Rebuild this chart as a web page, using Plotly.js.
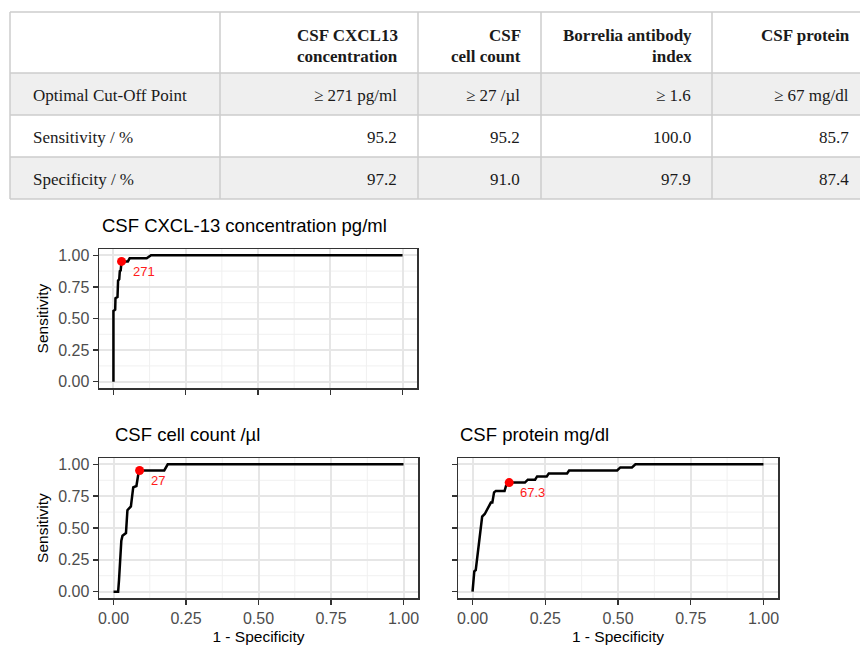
<!DOCTYPE html>
<html>
<head>
<meta charset="utf-8">
<script src="https://cdn.plot.ly/plotly-3.0.1.min.js"></script>
<style>html,body{margin:0;padding:0;background:#fff;}#chart{width:860px;height:646px;}</style>
</head>
<body>
<div id="chart"></div>
<script>
// ---------- table data ----------
const colHeaders = ['', 'CSF CXCL13<br>concentration', 'CSF<br>cell count', 'Borrelia antibody<br>index', 'CSF protein'];
const rowLabels = ['Optimal Cut-Off Point', 'Sensitivity / %', 'Specificity / %'];
const cutoffs = ['≥ 271 pg/ml', '≥ 27 /µl', '≥ 1.6', '≥ 67 mg/dl'];
const sensitivity = [95.2, 95.2, 100.0, 85.7];
const specificity = [97.2, 91.0, 97.9, 87.4];

// ---------- ROC data (1 - specificity, sensitivity) ----------
const cxclFpr = [0, 0, 0.006, 0.007, 0.014, 0.016, 0.02, 0.022, 0.025, 0.026, 0.028, 0.05, 0.056, 0.115, 0.13, 1];
const cxclTpr = [0, 0.56, 0.57, 0.66, 0.67, 0.80, 0.81, 0.875, 0.88, 0.925, 0.952, 0.952, 0.976, 0.976, 1, 1];

const cellFpr = [0, 0.016, 0.019, 0.021, 0.024, 0.027, 0.031, 0.043, 0.048, 0.06, 0.068, 0.079, 0.086, 0.09, 0.175, 0.187, 1];
const cellTpr = [0, 0, 0.09, 0.15, 0.31, 0.40, 0.44, 0.46, 0.64, 0.67, 0.82, 0.83, 0.93, 0.952, 0.952, 1, 1];

const protFpr = [0, 0.003, 0.006, 0.011, 0.017, 0.022, 0.027, 0.033, 0.042, 0.049, 0.057, 0.063, 0.068, 0.074, 0.08, 0.11, 0.115, 0.126, 0.18, 0.19, 0.215, 0.222, 0.255, 0.262, 0.325, 0.332, 0.497, 0.508, 0.548, 0.56, 1];
const protTpr = [0, 0.09, 0.16, 0.17, 0.28, 0.39, 0.50, 0.59, 0.61, 0.64, 0.67, 0.70, 0.70, 0.78, 0.79, 0.79, 0.83, 0.857, 0.857, 0.88, 0.88, 0.905, 0.905, 0.928, 0.928, 0.952, 0.952, 0.976, 0.976, 1, 1];

const plotTitles = ['CSF CXCL-13 concentration pg/ml', 'CSF cell count /µl', 'CSF protein mg/dl'];
const cutoffLabels = ['271', '27', '67.3'];
// which table column each ROC corresponds to
const rocTableIndex = [0, 1, 3];
const tickVals = [0, 0.25, 0.5, 0.75, 1];
const tickText = ['0.00', '0.25', '0.50', '0.75', '1.00'];
const minorVals = [0.125, 0.375, 0.625, 0.875];

// ---------- helpers ----------
const W = 860, H = 646;
const px = v => v / W;
const py = v => 1 - v / H;
const shapes = [];
const annotations = [];

// ---------- table (shapes + text annotations) ----------
const colEdges = [10, 220, 418, 541, 712, 870];
const rowEdges = [12, 73, 115, 157, 199];
const rowFill = ['#efefef', '#ffffff', '#efefef'];
const tableFont = {family: 'Liberation Serif', size: 17, color: '#1a1a1a'};
const gridLine = {color: '#cdcdcd', width: 1.5};

const bodyCols = [rowLabels];
for (let i = 0; i < cutoffs.length; i++) {
  bodyCols.push([cutoffs[i], sensitivity[i].toFixed(1), specificity[i].toFixed(1)]);
}
for (let r = 0; r < rowLabels.length; r++) {
  shapes.push({type: 'rect', xref: 'paper', yref: 'paper', layer: 'below',
    x0: px(colEdges[0]), x1: px(colEdges[colEdges.length - 1]),
    y0: py(rowEdges[r + 1]), y1: py(rowEdges[r + 2]),
    fillcolor: rowFill[r], line: {width: 0}});
}
rowEdges.forEach(y => shapes.push({type: 'line', xref: 'paper', yref: 'paper',
  x0: px(colEdges[0]), x1: px(colEdges[colEdges.length - 1]), y0: py(y), y1: py(y), line: gridLine}));
colEdges.forEach(x => shapes.push({type: 'line', xref: 'paper', yref: 'paper',
  x0: px(x), x1: px(x), y0: py(rowEdges[0]), y1: py(rowEdges[rowEdges.length - 1]), line: gridLine}));

// header text (line by line)
colHeaders.forEach((h, c) => {
  if (!h) return;
  h.split('<br>').forEach((line, i) => {
    annotations.push({xref: 'paper', yref: 'paper', x: px(colEdges[c + 1] - 18), y: py(36 + 20 * i),
      xanchor: 'right', yanchor: 'middle', showarrow: false, text: '<b>' + line + '</b>', font: tableFont});
  });
});
// body text
bodyCols.forEach((col, c) => {
  col.forEach((txt, r) => {
    const yc = (rowEdges[r + 1] + rowEdges[r + 2]) / 2 + 1;
    const left = c === 0;
    annotations.push({xref: 'paper', yref: 'paper',
      x: left ? px(colEdges[c] + 21) : px(colEdges[c + 1] - 19), y: py(yc),
      xanchor: left ? 'left' : 'right', yanchor: 'middle', showarrow: false, text: txt, font: tableFont});
  });
});

// ---------- ROC traces ----------
const rocX = [cxclFpr, cellFpr, protFpr];
const rocY = [cxclTpr, cellTpr, protTpr];
const axSuffix = ['', '2', '3'];
const traces = [];
for (let k = 0; k < 3; k++) {
  const xa = 'x' + axSuffix[k], ya = 'y' + axSuffix[k];
  // minor grid lines
  minorVals.forEach(v => {
    shapes.push({type: 'line', layer: 'below', xref: xa, yref: ya + ' domain', x0: v, x1: v, y0: 0, y1: 1,
      line: {color: '#f0f0f0', width: 1}});
    shapes.push({type: 'line', layer: 'below', xref: xa + ' domain', yref: ya, x0: 0, x1: 1, y0: v, y1: v,
      line: {color: '#f0f0f0', width: 1}});
  });
  traces.push({
    type: 'scatter', mode: 'lines', x: rocX[k], y: rocY[k], xaxis: xa, yaxis: ya,
    line: {color: '#000', width: 2.5}, hoverinfo: 'skip'
  });
  const ti = rocTableIndex[k];
  const cx = +(1 - specificity[ti] / 100).toFixed(3);
  const cy = +(sensitivity[ti] / 100).toFixed(3);
  traces.push({
    type: 'scatter', mode: 'markers', x: [cx], y: [cy], xaxis: xa, yaxis: ya,
    marker: {color: '#ff0000', size: 9}, hoverinfo: 'skip'
  });
  annotations.push({
    xref: xa, yref: ya, x: cx, y: cy, text: cutoffLabels[k], showarrow: false,
    xanchor: 'left', yanchor: 'middle', xshift: 9, yshift: -10,
    font: {family: 'Liberation Sans', size: 13, color: '#ff1a1a'}
  });
}

// subplot titles
const titlePos = [[100, 225], [113, 434], [458, 434]];
for (let k = 0; k < 3; k++) {
  annotations.push({
    xref: 'paper', yref: 'paper', x: px(titlePos[k][0]), y: py(titlePos[k][1]),
    xanchor: 'left', yanchor: 'middle', text: plotTitles[k], showarrow: false,
    font: {family: 'Liberation Sans', size: 18.5, color: '#000'}
  });
}

function axis(domain, anchor, showLabels, titleText) {
  const a = {
    domain: domain, anchor: anchor, range: [-0.05, 1.05],
    tickmode: 'array', tickvals: tickVals, ticktext: tickText,
    showticklabels: showLabels,
    tickfont: {family: 'Liberation Sans', size: 16, color: '#4d4d4d'},
    ticks: 'outside', ticklen: 5, tickwidth: 1.5, tickcolor: '#333',
    showline: true, linecolor: '#333', linewidth: 1.5, mirror: true,
    showgrid: true, gridcolor: '#e6e6e6', gridwidth: 2, zeroline: false,
    fixedrange: true
  };
  if (titleText) {
    a.title = {text: titleText, font: {family: 'Liberation Sans', size: 15.5, color: '#000'}, standoff: 5};
  }
  return a;
}

const yTop = [py(388), py(249)];
const yBot = [py(598), py(458)];
const layout = {
  width: W, height: H,
  margin: {l: 0, r: 0, t: 0, b: 0},
  paper_bgcolor: '#fff', plot_bgcolor: '#fff',
  showlegend: false,
  font: {family: 'Liberation Sans'},
  xaxis: axis([px(99), px(417)], 'y', false, null),
  yaxis: axis(yTop, 'x', true, 'Sensitivity'),
  xaxis2: axis([px(99), px(418)], 'y2', true, '1 - Specificity'),
  yaxis2: axis(yBot, 'x2', true, 'Sensitivity'),
  xaxis3: axis([px(458), px(778)], 'y3', true, '1 - Specificity'),
  yaxis3: axis(yBot, 'x3', false, null),
  shapes: shapes,
  annotations: annotations
};

Plotly.newPlot('chart', traces, layout, {displayModeBar: false, staticPlot: true});
</script>
</body>
</html>
